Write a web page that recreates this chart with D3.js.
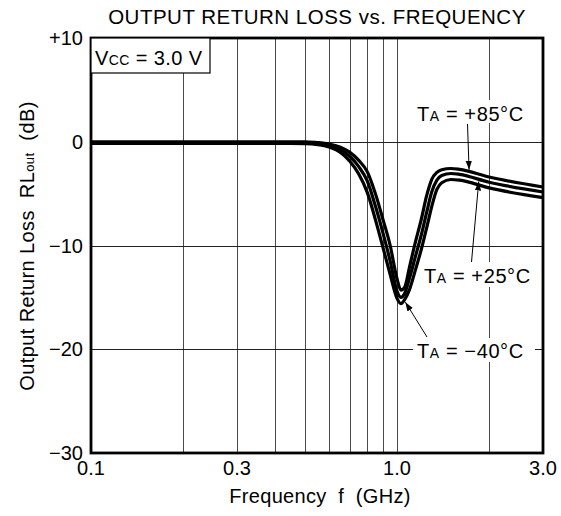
<!DOCTYPE html>
<html><head><meta charset="utf-8">
<script src="https://cdn.jsdelivr.net/npm/d3@7/dist/d3.min.js"></script>
<style>
html,body{margin:0;padding:0;background:#fff;}
svg text{font-family:"Liberation Sans",Arial,Helvetica,sans-serif;fill:#000;white-space:pre;}
</style></head>
<body>
<svg id="chart" width="561" height="516"></svg>
<script>
// ---- data ----
const freqs = [0.1, 0.3, 0.45, 0.5, 0.55, 0.6, 0.65, 0.7, 0.75, 0.8, 0.85, 0.9, 0.95, 1.0, 1.03, 1.06, 1.1, 1.15, 1.2, 1.25, 1.3, 1.35, 1.4, 1.5, 1.6, 2.0, 3.0];
const rl85 = [0, 0, 0, -0.02, -0.08, -0.22, -0.5, -1.0, -1.8, -2.9, -5.0, -7.5, -10.0, -13.2, -14.3, -14.0, -12.0, -9.6, -7.5, -5.2, -3.6, -2.95, -2.7, -2.58, -2.66, -3.4, -4.36];
const rl25 = [-0.08, -0.08, -0.08, -0.1, -0.17, -0.35, -0.72, -1.4, -2.4, -3.8, -6.2, -8.8, -11.5, -14.4, -15.0, -14.6, -13.1, -11.0, -9.0, -6.8, -4.8, -3.7, -3.25, -3.06, -3.14, -3.9, -4.84];
const rlm40 = [-0.16, -0.16, -0.16, -0.18, -0.27, -0.5, -0.98, -1.85, -3.1, -4.9, -7.5, -10.2, -12.8, -15.1, -15.6, -15.2, -14.2, -12.3, -10.4, -8.3, -6.2, -4.6, -3.95, -3.64, -3.7, -4.45, -5.38];
const seriesNames = ["+85°C", "+25°C", "−40°C"];
const xTicks = [0.1, 0.3, 1.0, 3.0];
const xTickLabels = ["0.1", "0.3", "1.0", "3.0"];
const xGrid = [0.2, 0.3, 0.4, 0.5, 0.6, 0.7, 0.8, 0.9, 1.0, 2.0];
const yTicks = [10, 0, -10, -20, -30];
const yTickLabels = ["+10", "0", "−10", "−20", "−30"];

// ---- layout ----
const L = 91, R = 543, T = 38, B = 453;
const svg = d3.select("#chart");
const x = d3.scaleLog().domain([0.1, 3.0]).range([L, R]);
const y = d3.scaleLinear().domain([-30, 10]).range([B, T]);

// grid
svg.append("g").selectAll("line").data(xGrid).join("line")
  .attr("x1", d => Math.round(x(d)) + 0.5).attr("x2", d => Math.round(x(d)) + 0.5)
  .attr("y1", T).attr("y2", B).attr("stroke", "#4a4a4a").attr("stroke-width", 1);
svg.append("g").selectAll("line").data([0, -10, -20]).join("line")
  .attr("x1", L).attr("x2", R)
  .attr("y1", d => Math.round(y(d)) + 0.5).attr("y2", d => Math.round(y(d)) + 0.5)
  .attr("stroke", "#222").attr("stroke-width", 1);

// curves
const line = d3.line().x(d => x(d[0])).y(d => y(d[1])).curve(d3.curveMonotoneX);
const series = [rl85, rl25, rlm40];
series.forEach(vals => {
  svg.append("path").datum(freqs.map((f, i) => [f, vals[i]]))
    .attr("d", line).attr("fill", "none").attr("stroke", "#000")
    .attr("stroke-width", 3.2).attr("stroke-linejoin", "round");
});

// frame
svg.append("rect").attr("x", L).attr("y", T).attr("width", R - L).attr("height", B - T)
  .attr("fill", "none").attr("stroke", "#000").attr("stroke-width", 2.8);

// Vcc box
const vb = svg.append("g");
vb.append("rect").attr("x", L).attr("y", T).attr("width", 119).attr("height", 35)
  .attr("fill", "#fff").attr("stroke", "#000").attr("stroke-width", 1.2);
const vt = vb.append("text").attr("x", 95).attr("y", 64.5).attr("font-size", 20).attr("letter-spacing", 0.4);
vt.append("tspan").text("V");
vt.append("tspan").attr("font-size", 14).text("CC");
vt.append("tspan").text(" = 3.0 V");

// axis tick labels
svg.append("g").selectAll("text").data(yTicks).join("text")
  .attr("x", 83).attr("y", d => y(d) + 7).attr("text-anchor", "end")
  .attr("font-size", 20).text((d, i) => yTickLabels[i]);
svg.append("g").selectAll("text").data(xTicks).join("text")
  .attr("x", d => x(d)).attr("y", 475).attr("text-anchor", "middle")
  .attr("font-size", 20).text((d, i) => xTickLabels[i]);

// titles
svg.append("text").attr("x", 317).attr("y", 24).attr("text-anchor", "middle")
  .attr("font-size", 20.5).attr("letter-spacing", 0.5).text("OUTPUT RETURN LOSS vs. FREQUENCY");
const xt = svg.append("text").attr("x", 320).attr("y", 503).attr("text-anchor", "middle")
  .attr("font-size", 20).attr("letter-spacing", 0.3);
xt.append("tspan").text("Frequency  f  (GHz)");
const yt = svg.append("text").attr("transform", "translate(34,246) rotate(-90)")
  .attr("text-anchor", "middle").attr("font-size", 20).attr("letter-spacing", 0.4);
yt.append("tspan").text("Output Return Loss  RL");
yt.append("tspan").attr("font-size", 13).text("out");
yt.append("tspan").text("  (dB)");

// annotations
svg.append("defs").append("marker").attr("id", "ah").attr("viewBox", "0 0 10 10")
  .attr("refX", 10).attr("refY", 5).attr("markerWidth", 9).attr("markerHeight", 9)
  .attr("markerUnits", "userSpaceOnUse").attr("orient", "auto")
  .append("path").attr("d", "M0,1.5 L10,5 L0,8.5 Z").attr("fill", "#000");

const anns = [
  {name: seriesNames[0], tx: 417, ty: 121, bg: [414, 100, 117, 23], from: [467.5, 124], toF: 1.72, toS: 0, off: -2},
  {name: seriesNames[1], tx: 424, ty: 283, bg: [420, 262, 112, 25], from: [471.5, 262], toF: 1.85, toS: 1, off: 2},
  {name: seriesNames[2], tx: 417, ty: 358, bg: [413, 338, 122, 24], from: [427, 337], toF: 1.065, toS: 2, off: 4}
];
anns.forEach(a => {
  const fi = a.toF;
  const vals = series[a.toS];
  let j = freqs.findIndex(f => f >= fi);
  const t0 = (Math.log(fi) - Math.log(freqs[j - 1])) / (Math.log(freqs[j]) - Math.log(freqs[j - 1]));
  const v = vals[j - 1] + t0 * (vals[j] - vals[j - 1]);
  const ex = x(fi), ey = y(v) + a.off;
  svg.append("rect").attr("x", a.bg[0]).attr("y", a.bg[1]).attr("width", a.bg[2]).attr("height", a.bg[3]).attr("fill", "#fff");
  svg.append("line").attr("x1", a.from[0]).attr("y1", a.from[1]).attr("x2", ex).attr("y2", ey)
    .attr("stroke", "#000").attr("stroke-width", 1).attr("marker-end", "url(#ah)");
  const t = svg.append("text").attr("x", a.tx).attr("y", a.ty).attr("font-size", 20).attr("letter-spacing", 0.6);
  t.append("tspan").text("T");
  t.append("tspan").attr("font-size", 14).text("A");
  t.append("tspan").text(" = " + a.name);
});
</script>
</body></html>
